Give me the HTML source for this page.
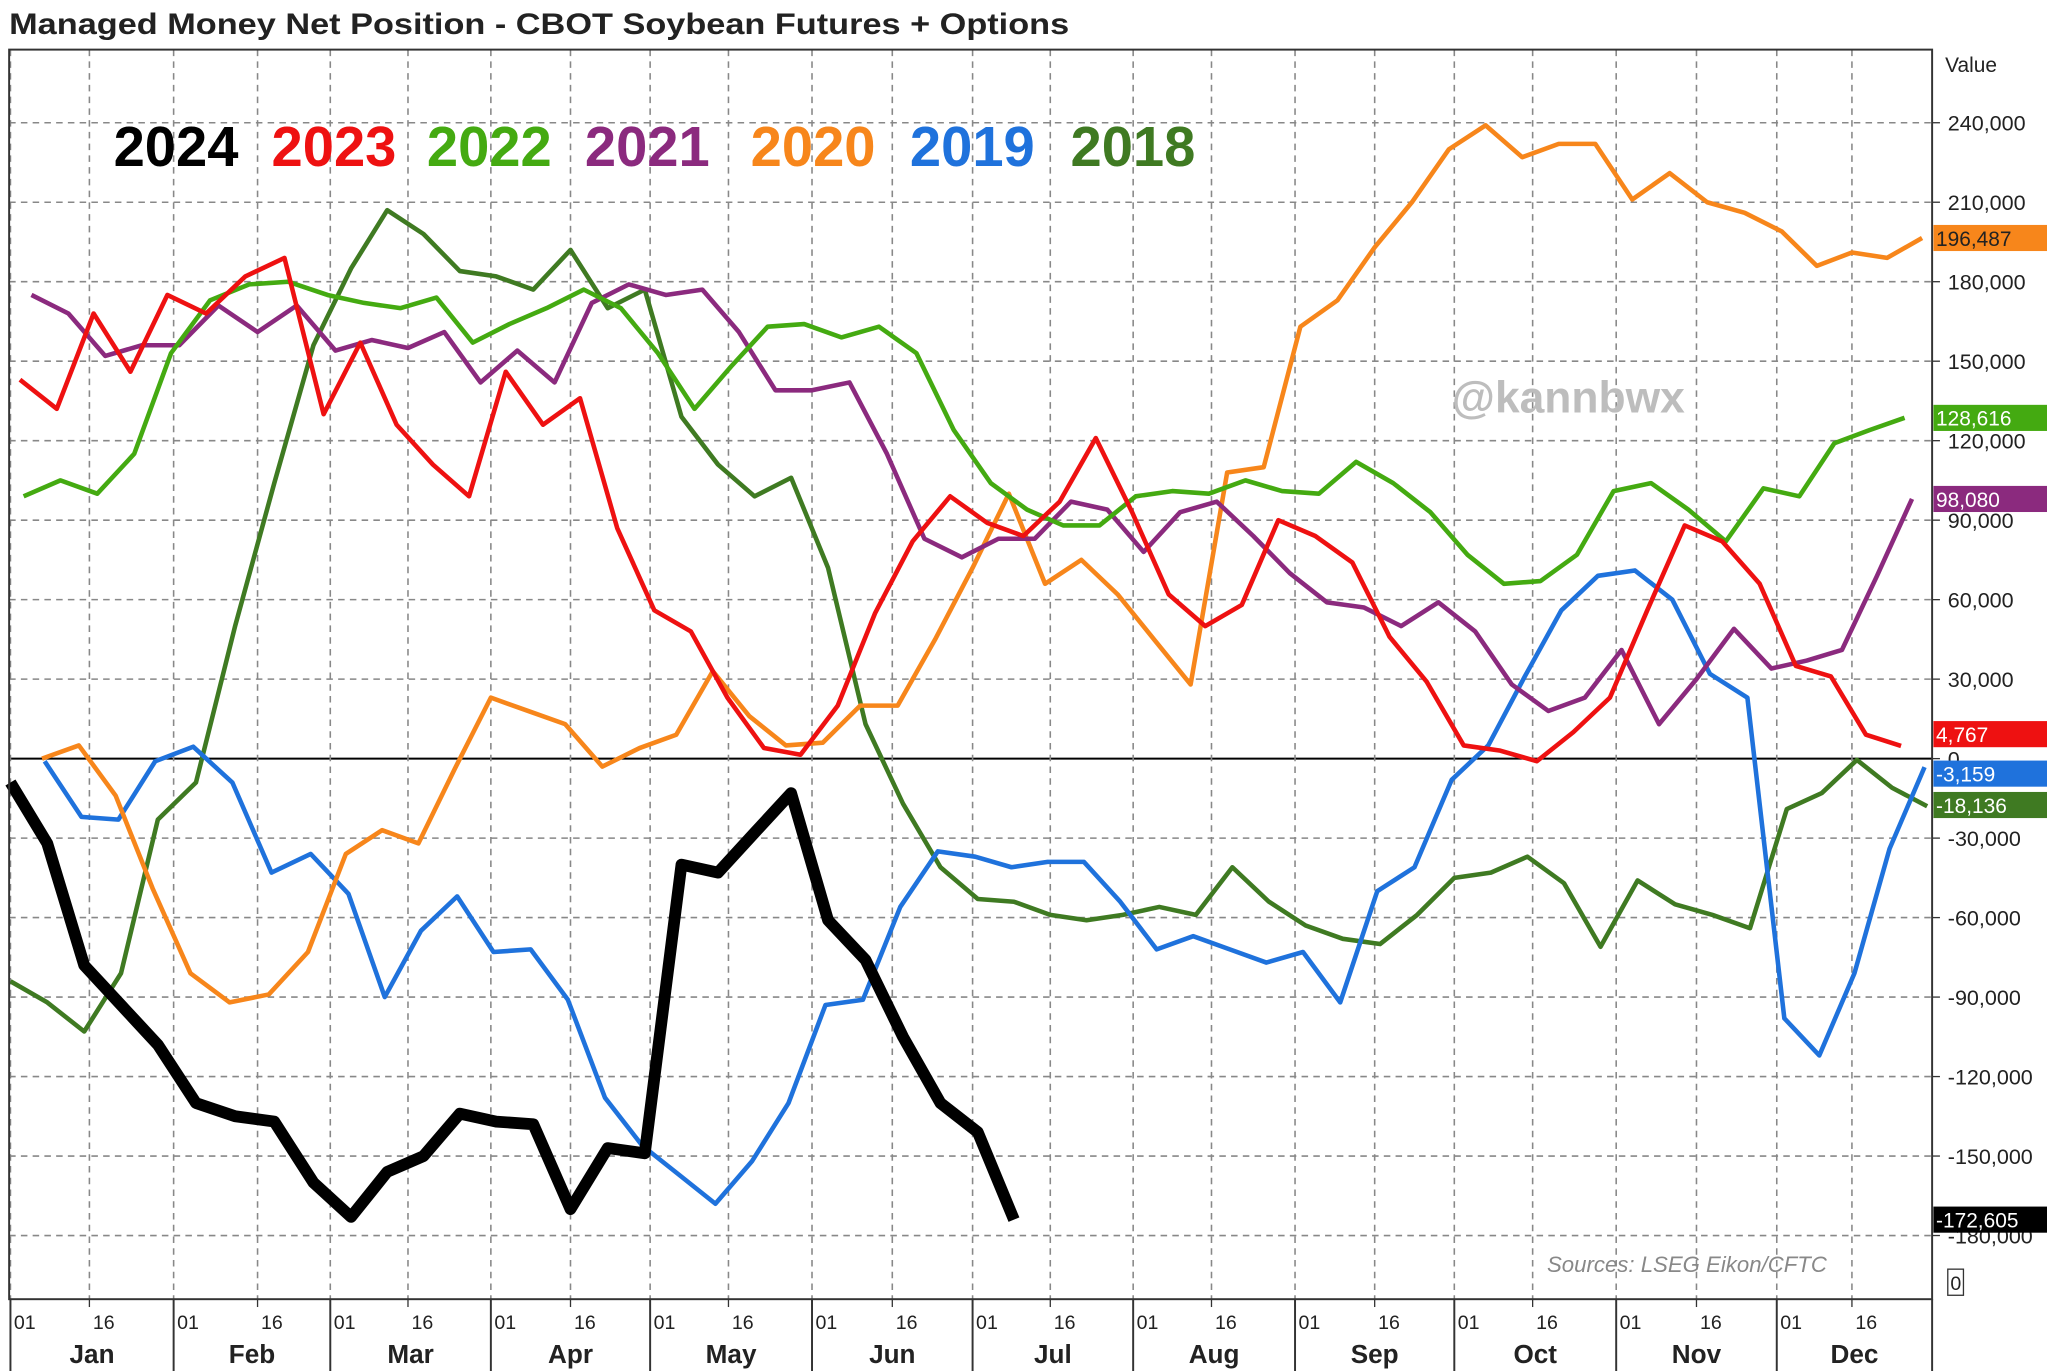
<!DOCTYPE html>
<html><head><meta charset="utf-8"><style>
html,body{margin:0;padding:0;background:#fff;}
svg{display:block;font-family:"Liberation Sans",sans-serif;}
</style></head><body>
<svg id="chart" width="2047" height="1371" viewBox="0 0 1568 1050" preserveAspectRatio="none" xmlns="http://www.w3.org/2000/svg">
<rect x="0" y="0" width="1568" height="1050" fill="#fff"/>
<text x="7" y="26" font-size="23" font-weight="bold" fill="#222" textLength="812" lengthAdjust="spacingAndGlyphs">Managed Money Net Position - CBOT Soybean Futures + Options</text>
<g id="grid"></g>
<g id="series"></g>
<g id="axes"></g>
<text x="1112" y="316" font-size="34" font-weight="bold" fill="#bdbdbd">@kannbwx</text>
<text x="1185" y="974" font-size="17" font-style="italic" fill="#888">Sources: LSEG Eikon/CFTC</text>
<g id="legend"></g>
</svg>
<script>
const yearNames = ["2024","2023","2022","2021","2020","2019","2018"];
const s2024 = [-9,-32,-78,-93,-108,-130,-135,-137,-160,-173,-156,-150,-134,-137,-138,-170,-147,-149,-40,-43,-28,-13,-61,-76,-105,-130,-141,-174];
const s2023 = [143,132,168,146,175,168,182,189,130,157,126,111,99,146,126,136,87,56,48,23,4,1.5,20,55,82,99,89,84,97,121,93,62,50,58,90,84,74,46,29,5,3,-1,10,23,56,88,82,66,35,31,9,4.8];
const s2022 = [99,105,100,115,153,173,179,180,175,172,170,174,157,164,170,177,170,153,132,148,163,164,159,163,153,124,104,94,88,88,99,101,100,105,101,100,112,104,93,77,66,67,77,101,104,94,82,102,99,119,124,128.6];
const s2021 = [175,168,152,156,156,171,161,171,154,158,155,161,142,154,142,172,179,175,177,161,139,139,142,115,83,76,83,83,97,94,78,93,97,84,70,59,57,50,59,48,28,18,23,41,13,30,49,34,37,41,69,98];
const s2020 = [0,5,-14,-49,-81,-92,-89,-73,-36,-27,-32,-4,23,18,13,-3,4,9,33,16,5,6,20,20,45,72,100,66,75,62,45,28,108,110,163,173,193,210,230,239,227,232,232,211,221,210,206,199,186,191,189,196.5];
const s2019 = [-1,-22,-23,-1,4.5,-9,-43,-36,-51,-90,-65,-52,-73,-72,-91,-128,-146,-157,-168,-152,-130,-93,-91,-56,-35,-37,-41,-39,-39,-54,-72,-67,-72,-77,-73,-92,-50,-41,-8,5,31,56,69,71,60,32,23,-98,-112,-81,-34,-3.2];
const s2018 = [-84,-92,-103,-81,-23,-9,50,104,156,185,207,198,184,182,177,192,170,177,129,111,99,106,72,13,-17,-41,-53,-54,-59,-61,-59,-56,-59,-41,-54,-63,-68,-70,-59,-45,-43,-37,-47,-71,-46,-55,-59,-64,-19,-13,-0.5,-11,-18];
const startDay = [0,1.8,2.5,4,6,6.5,0];
const lastLabels = ["-172,605","4,767","128,616","98,080","196,487","-3,159","-18,136"];
const yTicks = [240,210,180,150,120,90,60,30,0,-30,-60,-90,-120,-150,-180];
const months = ["Jan","Feb","Mar","Apr","May","Jun","Jul","Aug","Sep","Oct","Nov","Dec"];
const monthStart = [0,31,59,90,120,151,181,212,243,273,304,334,365];

const colors = ["#000","#ee1111","#44aa11","#8b2a7e","#f7861b","#1f72dc","#3f7a22"];
const series = [s2024,s2023,s2022,s2021,s2020,s2019,s2018];
const NS="http://www.w3.org/2000/svg";
const monthX=[8,133,253,376,498,622,745,868,992,1114,1238,1361,1480];
const X1=1480, Y0=581, PYK=487/240;
function xDay(d){
  let m=0; while(m<11 && d>=monthStart[m+1]) m++;
  const f=(d-monthStart[m])/(monthStart[m+1]-monthStart[m]);
  return monthX[m]+f*(monthX[m+1]-monthX[m]);
}
function yVal(v){return Y0-v*PYK;}
function mk(tag,attrs,parent){const e=document.createElementNS(NS,tag);for(const k in attrs)e.setAttribute(k,attrs[k]);parent.appendChild(e);return e;}
const grid=document.getElementById('grid'), axes=document.getElementById('axes'), sg=document.getElementById('series'), lg=document.getElementById('legend');

yTicks.forEach(t=>{
  const y=yVal(t);
  if(t!==0){const l=mk('line',{x1:7,x2:X1,y1:y,y2:y,stroke:'#888','stroke-width':1.2,'stroke-dasharray':'5,4'},grid);
  
  }
  mk('line',{x1:X1,x2:X1+6,y1:y,y2:y,stroke:'#333'},axes);
  const tx=mk('text',{x:1492,y:y+6,'font-size':16.5,fill:'#222'},axes);
  tx.textContent=(t===0?'0':(t<0?'-':'')+Math.abs(t)+',000');
  
  
});
mk('line',{x1:7,x2:X1,y1:Y0,y2:Y0,stroke:'#000','stroke-width':1.5},grid);
for(let m=0;m<12;m++){
  [0,15].forEach((off,j)=>{
    const x=xDay(monthStart[m]+off);
    const l=mk('line',{x1:x,x2:x,y1:38,y2:995,stroke:'#888','stroke-width':1.2,'stroke-dasharray':'5,4'},grid);
    
    
    mk('line',{x1:x,x2:x,y1:995,y2:1001,stroke:'#333'},axes);
    const t=mk('text',{x:x+11,y:1018,'font-size':15,fill:'#222','text-anchor':'middle'},axes);
    t.textContent=j?'16':'01';
    
    
  });
  const mx=(monthX[m]+monthX[m+1])/2;
  const mt=mk('text',{x:mx,y:1044,'font-size':20,'font-weight':'bold',fill:'#222','text-anchor':'middle'},axes);
  mt.textContent=months[m];
  
  
}
for(let m=0;m<=12;m++){const x=monthX[m];mk('line',{x1:x,x2:x,y1:995,y2:1050,stroke:'#333','stroke-width':1.5},axes);}
mk('rect',{x:7,y:38,width:X1-7,height:995-38,fill:'none',stroke:'#333','stroke-width':1.5},axes);
const vl=mk('text',{x:1490,y:55,'font-size':16,fill:'#222'},axes);vl.textContent='Value';


mk('rect',{x:1492,y:972,width:12,height:20,fill:'#fff',stroke:'#333'},axes);
const zt=mk('text',{x:1494,y:988,'font-size':15,fill:'#222'},axes);zt.textContent='0';

for(let i=series.length-1;i>=0;i--){
  const data=series[i];
  const pts=data.map((v,k)=>xDay(startDay[i]+k*7).toFixed(1)+','+yVal(v).toFixed(1)).join(' ');
  const p=mk('polyline',{points:pts,fill:'none',stroke:colors[i],'stroke-width':i===0?9:3.5,'stroke-linejoin':'round'},sg);
  
  
}
const boxOrder=[4,2,3,1,5,6,0];
boxOrder.forEach(i=>{
  const data=series[i];const v=data[data.length-1];
  let y=yVal(v);
  if(i===1)y-=9; if(i===5)y+=5; if(i===6)y-=1;
  const r=mk('rect',{x:1481,y:y-10,width:87,height:20,fill:colors[i]},axes);
  
  
  const t=mk('text',{x:1483,y:y+6,'font-size':16,fill:i===4?'#222':'#fff'},axes);
  t.textContent=lastLabels[i];
});
const legX=[87,208,327,448,575,697,820];
yearNames.forEach((n,i)=>{
  const t=mk('text',{x:legX[i],y:127,'font-size':43,'font-weight':'bold',fill:colors[i]},lg);
  t.textContent=n;
  
  
});
</script>
</body></html>
